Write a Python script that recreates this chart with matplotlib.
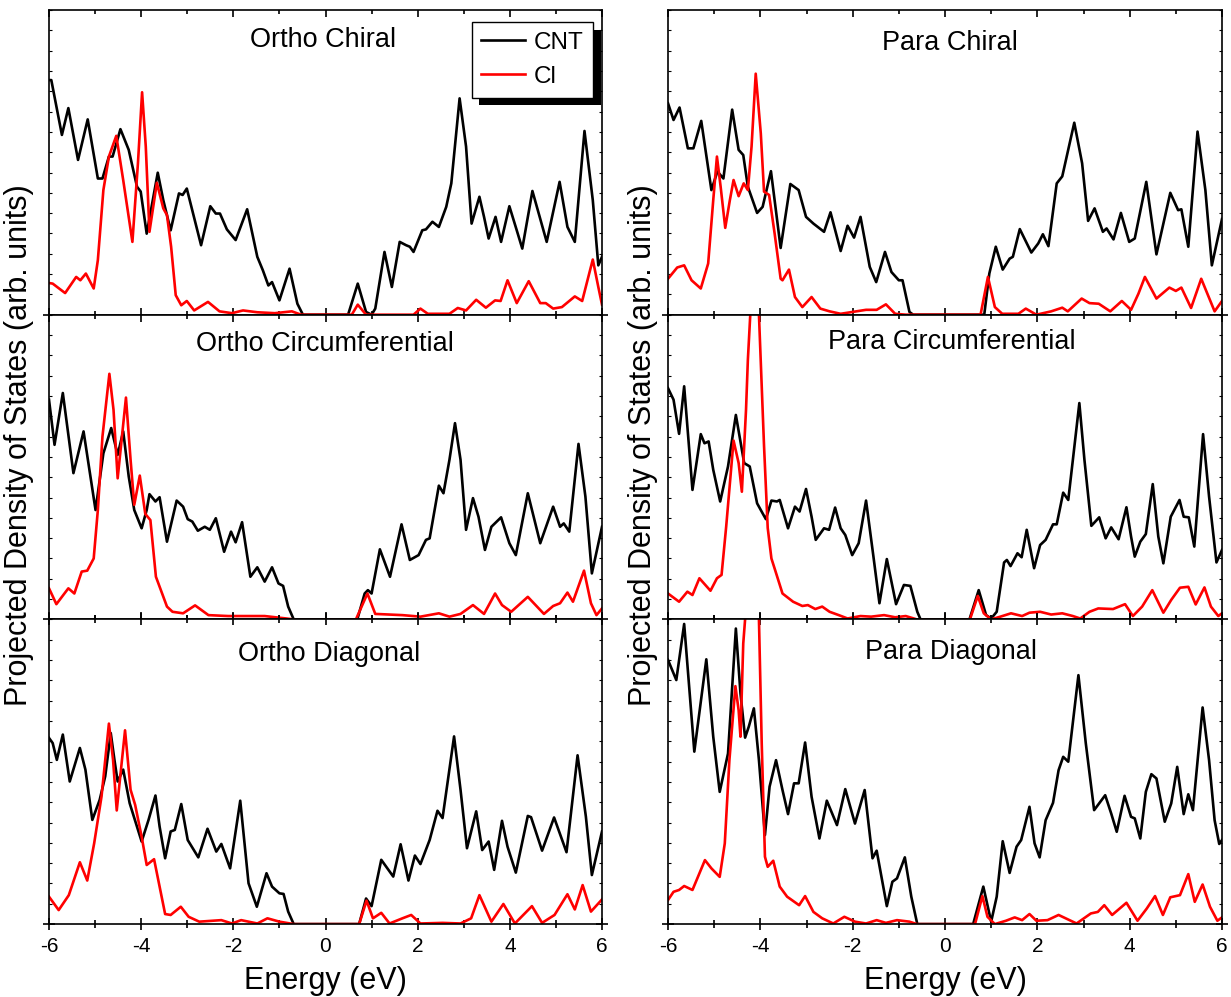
import numpy as np
import matplotlib.pyplot as plt
from matplotlib.ticker import MultipleLocator
import matplotlib.patheffects as pe

plt.rcParams['font.family'] = ['Liberation Sans', 'DejaVu Sans']
plt.rcParams['axes.unicode_minus'] = False

# (energy in eV, PDOS in % of panel height)
ortho_chiral_cnt = [(-6.0,77),(-5.95,77),(-5.72,59),(-5.58,67.8),(-5.37,50.8),(-5.16,64.1),(-4.94,44.7),(-4.84,44.7),
    (-4.70,51.9),(-4.62,51.9),(-4.45,60.9),(-4.27,54.1),(-4.09,42),(-4.01,40.4),(-3.88,26.6),(-3.64,46.6),(-3.52,37.6),
    (-3.36,27.7),(-3.18,39.8),(-3.10,39.3),(-3.01,41.4),(-2.70,22.8),(-2.50,35.6),(-2.38,33.2),(-2.29,33.2),(-2.14,28),
    (-1.95,24.5),(-1.70,34.6),(-1.48,19),(-1.36,14.6),(-1.24,9.6),(-1.16,10.7),(-1.00,4.7),(-0.78,15.1),(-0.61,3.6),
    (-0.49,0),(0.49,0),(0.70,10.2),(0.88,0.9),(1.0,0),(1.08,2),(1.28,20.6),(1.44,9.1),(1.61,23.9),(1.75,22.8),(1.83,22.3),
    (1.91,20.6),(2.10,27.7),(2.18,28),(2.32,30.5),(2.46,28.8),(2.62,35.4),(2.73,43.1),(2.91,71),(3.05,55.2),(3.17,29.9),
    (3.34,38.7),(3.44,32.1),(3.54,25),(3.69,32.1),(3.81,23.9),(3.99,35.6),(4.15,27.7),(4.27,21.7),(4.49,40.6),(4.80,23.9),
    (5.08,43.6),(5.25,28.8),(5.41,23.9),(5.62,60.3),(5.80,37.6),(5.92,16.2),(6.0,19)]
ortho_chiral_cl = [(-6.0,10.4),(-5.92,10.2),(-5.65,7.1),(-5.41,12.4),(-5.32,11.3),(-5.20,13.5),(-5.03,8.6),(-4.94,17.9),
    (-4.82,40.9),(-4.70,51.9),(-4.54,58.7),(-4.39,44.2),(-4.19,23.9),(-4.07,49.7),(-3.98,73),(-3.90,55.2),(-3.82,27.2),
    (-3.66,43.3),(-3.52,34.9),(-3.44,32.7),(-3.35,22.3),(-3.25,6.4),(-3.13,3.1),(-3.01,4.5),(-2.85,1.4),(-2.55,4.2),
    (-2.30,1.1),(-2.03,0.5),(-1.79,1.4),(-1.48,0.8),(-1.1,0.5),(-0.73,1.1),(-0.53,0),(0.57,0),(0.70,3.3),(0.88,0),
    (1.91,0),(2.06,2),(2.22,0.3),(2.69,0.3),(2.87,2.2),(3.05,1.4),(3.27,4.9),(3.48,2.3),(3.68,4.7),(3.80,4.5),(3.95,11.3),
    (4.15,3.8),(4.41,11),(4.66,3.8),(4.78,3.8),(4.94,2),(5.13,2.5),(5.41,6),(5.57,4.5),(5.80,18.1),(5.92,9.1),(6.0,3.3)]

ortho_circ_cnt = [(-6.0,72.1),(-5.88,57.3),(-5.70,74.3),(-5.47,48),(-5.25,61.7),(-4.99,35.9),(-4.82,54.5),(-4.65,62.8),
    (-4.51,54),(-4.39,61.7),(-4.27,46.9),(-4.15,35.9),(-3.99,29.9),(-3.88,35.9),(-3.82,41.1),(-3.69,38.7),(-3.60,40.1),
    (-3.44,25.5),(-3.23,39),(-3.09,37),(-2.99,32.9),(-2.89,32.1),(-2.77,29.1),(-2.62,30.4),(-2.51,29.4),(-2.38,33.2),
    (-2.20,22.2),(-2.05,28.8),(-1.95,25.3),(-1.81,31.9),(-1.63,14),(-1.48,17.1),(-1.32,12.4),(-1.16,17.1),(-1.02,11.8),
    (-0.92,11),(-0.81,4.2),(-0.69,0),(0.69,0),(0.85,8.5),(0.92,9.6),(1.0,8.5),(1.18,23),(1.40,14),(1.65,31.2),(1.83,19.5),
    (2.02,21.1),(2.18,26.1),(2.26,26.6),(2.46,43.9),(2.56,41.4),(2.69,52.4),(2.81,64.4),(2.93,52.4),(3.05,29.4),(3.20,39.8),
    (3.32,33.7),(3.46,22.8),(3.60,30.4),(3.81,33.5),(3.99,25),(4.13,21.1),(4.39,41.4),(4.66,25),(4.94,37),(5.09,30.4),
    (5.17,31.5),(5.29,28.8),(5.49,57.6),(5.64,40.3),(5.78,15.1),(6.0,30.4)]
ortho_circ_cl = [(-6.0,10.2),(-5.84,5),(-5.58,10.2),(-5.45,8.5),(-5.29,15.7),(-5.17,16),(-5.03,20),(-4.94,35.9),(-4.84,60),
    (-4.69,80.6),(-4.60,68.8),(-4.51,46.3),(-4.33,72.8),(-4.23,52.4),(-4.15,37.6),(-4.03,47.2),(-3.91,34.6),(-3.80,32.6),
    (-3.68,14),(-3.56,9.1),(-3.44,4.2),(-3.32,2.5),(-3.09,2),(-2.83,4.6),(-2.54,1.4),(-2.11,1.1),(-1.32,1.1),(-0.85,0.3),
    (-0.7,0),(0.66,0),(0.91,8.5),(1.08,1.8),(1.67,1.4),(2.06,0.9),(2.46,2),(2.69,0.9),(2.93,1.8),(3.20,4.7),(3.44,1.8),
    (3.68,8.5),(3.83,4.7),(4.03,2.5),(4.39,7.4),(4.74,1.8),(4.94,4.4),(5.09,5.3),(5.25,8.8),(5.37,5.8),(5.61,16),(5.76,5.3),
    (5.88,1.4),(6.0,3.6)]

ortho_diag_cnt = [(-6.0,61.1),(-5.92,59.4),(-5.83,53.9),(-5.70,62.2),(-5.55,46.8),(-5.33,57.8),(-5.21,50.7),(-5.06,34.2),
    (-4.90,40.8),(-4.78,48.5),(-4.66,62.7),(-4.58,53.9),(-4.51,46.8),(-4.39,50.7),(-4.25,39.7),(-3.99,27.1),(-3.84,34.2),
    (-3.69,42.2),(-3.60,32),(-3.48,21.6),(-3.36,30.4),(-3.27,30.9),(-3.13,39.4),(-2.99,27.6),(-2.76,21.9),(-2.56,31.3),
    (-2.37,23.8),(-2.26,26.3),(-2.07,18.3),(-1.85,40.5),(-1.67,13.4),(-1.49,5.7),(-1.28,16.7),(-1.16,12.3),(-1.00,10.1),
    (-0.91,9.9),(-0.81,4.1),(-0.69,0),(0.73,0),(0.88,8.4),(1.0,5.9),(1.21,21.1),(1.47,15.6),(1.63,26.2),(1.80,14.3),
    (1.94,22.5),(2.06,19.7),(2.26,27.6),(2.43,37.2),(2.54,34.8),(2.79,61.6),(2.93,44.1),(3.07,24.9),(3.27,37),(3.40,24.3),
    (3.54,27.1),(3.66,17.8),(3.83,33.9),(3.95,25.4),(4.13,16.9),(4.39,35.5),(4.46,35.1),(4.70,24.1),(4.96,35),(5.23,23.6),
    (5.47,55.4),(5.65,35.3),(5.78,16.1),(6.0,30.4)]
ortho_diag_cl = [(-6.0,9),(-5.79,4.6),(-5.57,9.5),(-5.33,20.3),(-5.17,14.3),(-5.02,26.5),(-4.86,41.9),(-4.70,65.8),
    (-4.61,53.9),(-4.53,37.3),(-4.35,63.6),(-4.23,44.1),(-4.13,39.1),(-3.99,28.7),(-3.88,19.4),(-3.72,21.3),(-3.60,12.3),
    (-3.48,3.3),(-3.36,3),(-3.14,5.7),(-2.97,2.4),(-2.74,0.8),(-2.26,1.3),(-2.03,0.2),(-1.83,1.3),(-1.48,0.2),(-1.26,1.9),
    (-1.0,0.8),(-0.69,0),(0.73,0),(0.89,7.7),(1.03,1.9),(1.21,3.7),(1.39,0.2),(1.67,1.9),(1.86,3),(2.06,0.2),(2.54,0.4),
    (2.93,0.2),(3.16,1.9),(3.34,9.5),(3.60,0.8),(3.86,6.6),(4.11,0.2),(4.48,5.9),(4.70,0.4),(4.97,3),(5.25,9.8),(5.41,4.8),
    (5.58,12.8),(5.76,4.1),(6.0,8.1)]

para_chiral_cnt = [(-6.0,69.4),(-5.88,63.9),(-5.75,68),(-5.57,54.6),(-5.45,54.6),(-5.28,63.6),(-5.06,40.9),(-4.93,47),
    (-4.80,44.7),(-4.61,67.3),(-4.47,54.1),(-4.37,52.4),(-4.27,42),(-4.07,33.4),(-3.95,35.4),(-3.77,47.1),(-3.56,21.9),
    (-3.35,42.9),(-3.17,40.9),(-3.01,32.1),(-2.85,29.9),(-2.62,27.2),(-2.48,33.6),(-2.26,20.9),(-2.11,29.2),(-1.97,25.3),
    (-1.83,32.1),(-1.63,15.7),(-1.49,10.7),(-1.30,20.6),(-1.16,14),(-1.00,11.3),(-0.92,11.3),(-0.77,0.9),(-0.69,0),(0.85,0),
    (0.96,13.5),(1.10,22.3),(1.25,14.8),(1.40,18.4),(1.47,19),(1.62,28.1),(1.87,20.4),(2.02,23.4),(2.12,26.4),(2.24,22.5),
    (2.42,43.1),(2.54,45.4),(2.80,63),(2.97,49.7),(3.10,30.8),(3.24,34.9),(3.42,27.2),(3.50,28.3),(3.65,24.7),(3.81,33.4),
    (3.99,23.9),(4.11,25),(4.36,43.6),(4.58,19.8),(4.88,40),(5.05,34.3),(5.12,34.6),(5.27,22.3),(5.47,60.1),(5.64,40.9),
    (5.78,16.2),(6.0,31.4)]
para_chiral_cl = [(-6.0,11.8),(-5.80,15.5),(-5.65,16.2),(-5.49,11.3),(-5.29,8.6),(-5.13,16.8),(-5.02,37.6),(-4.94,51.9),
    (-4.86,42),(-4.76,28.5),(-4.66,37.6),(-4.58,44.2),(-4.47,38.9),(-4.36,43.1),(-4.27,40.9),(-4.19,55.2),(-4.10,79.1),
    (-3.99,59.5),(-3.92,40.4),(-3.81,39.3),(-3.69,26.6),(-3.56,11.8),(-3.52,11.3),(-3.38,14.8),(-3.25,5.8),(-3.09,2.5),
    (-2.89,5.8),(-2.70,2),(-2.50,1.1),(-2.26,0.3),(-1.71,1.6),(-1.48,1.6),(-1.28,3.4),(-1.08,0.3),(-0.85,0),(0.77,0),
    (0.93,12.4),(1.08,2.5),(1.24,0.3),(1.59,0.3),(1.75,2),(1.98,0),(2.30,1.1),(2.54,2.3),(2.66,1.1),(2.96,5.3),(3.13,3.8),
    (3.33,3.6),(3.58,1.1),(3.83,4.5),(4.03,1.6),(4.19,6.9),(4.33,12.4),(4.58,5.3),(4.86,8.9),(5.0,7.8),(5.12,8.9),(5.33,2.2),
    (5.55,11.8),(5.84,1.1),(6.0,4.5)]

para_circ_cnt = [(-6.0,75.9),(-5.88,72.1),(-5.76,60.9),(-5.65,76.5),(-5.47,42.5),(-5.29,60.8),(-5.21,57.8),(-5.12,58.4),
    (-5.02,49.1),(-4.87,38.7),(-4.70,50.2),(-4.53,67.1),(-4.35,51.3),(-4.23,50.2),(-4.07,38.1),(-3.95,34.8),(-3.88,32.9),
    (-3.76,39),(-3.64,38.7),(-3.58,39.2),(-3.40,29.9),(-3.25,37),(-3.15,35.4),(-3.01,42.8),(-2.89,33.7),(-2.80,26.1),
    (-2.62,29.9),(-2.51,29.4),(-2.38,36.7),(-2.26,29.9),(-2.16,27.7),(-2.01,21.1),(-1.87,25),(-1.71,39),(-1.55,20.6),
    (-1.42,5.3),(-1.26,19.8),(-1.06,5),(-0.89,11.3),(-0.75,11),(-0.60,2.5),(-0.53,0),(0.53,0),(0.73,9.6),(0.89,1.4),
    (1.0,0.3),(1.12,2.5),(1.28,18.7),(1.34,19.5),(1.42,17.5),(1.57,21.7),(1.66,20.4),(1.77,29.4),(1.93,16.8),(2.06,24.4),
    (2.18,26.1),(2.34,31.2),(2.42,31.2),(2.56,41.6),(2.67,39.2),(2.77,52.4),(2.91,71),(3.02,52.4),(3.17,30.7),(3.34,33.5),
    (3.48,26.6),(3.60,30.2),(3.76,26.3),(3.93,36.8),(4.03,27.2),(4.11,20.6),(4.23,25.5),(4.35,28),(4.50,44.4),(4.62,27.2),
    (4.73,18.4),(4.89,33.7),(5.08,39.2),(5.17,33.7),(5.28,33.5),(5.40,23.9),(5.59,60.8),(5.72,40.3),(5.88,18.7),(6.0,22.8)]
para_circ_cl = [(-6.0,8.5),(-5.76,5.8),(-5.58,9.1),(-5.47,8),(-5.32,13.5),(-5.08,9.4),(-4.94,13.5),(-4.84,14.6),
    (-4.74,30.4),(-4.58,58.7),(-4.47,51.3),(-4.40,41.9),(-4.31,68.8),(-4.27,85.2),(-4.13,125),(-4.03,100),(-3.92,57),
    (-3.84,30),(-3.76,20),(-3.68,16.2),(-3.52,8.5),(-3.29,5.8),(-3.09,4.4),(-2.97,4.7),(-2.81,3.4),(-2.66,4.2),(-2.50,2.5),
    (-2.30,1.4),(-2.11,0.3),(-1.83,1.1),(-1.60,0.9),(-1.32,1.4),(-1.08,0.7),(-0.85,1.1),(-0.61,0),(0.54,0),(0.71,7.7),
    (0.84,2),(1.0,0),(1.20,0.9),(1.43,2),(1.67,1.1),(1.83,2.2),(2.06,2.5),(2.30,1.6),(2.54,2),(2.77,1.1),(2.93,0.3),
    (3.13,2.5),(3.32,3.6),(3.64,3.4),(3.90,5),(4.07,1.1),(4.27,4.2),(4.49,9.6),(4.73,2.2),(4.90,6.4),(5.09,10.4),(5.27,10.7),
    (5.43,4.9),(5.62,10.5),(5.76,4.2),(5.92,1.1),(6.0,2)]

para_diag_cnt = [(-6.0,86.7),(-5.82,80.1),(-5.65,98.5),(-5.53,75.7),(-5.43,56.6),(-5.17,86.9),(-5.02,61.5),(-4.88,43.4),
    (-4.70,56),(-4.53,97),(-4.43,75.7),(-4.33,61.2),(-4.25,64.8),(-4.14,70.8),(-4.03,53.8),(-3.90,29.2),(-3.80,45.1),
    (-3.66,53.8),(-3.52,44),(-3.40,36.1),(-3.27,46.2),(-3.17,46.2),(-3.03,59.6),(-2.89,41.8),(-2.72,28.1),(-2.56,40.5),
    (-2.34,32.5),(-2.16,44.3),(-1.95,33),(-1.74,44),(-1.57,21.6),(-1.48,24.1),(-1.26,5.9),(-1.14,13.9),(-1.04,15),
    (-0.87,21.9),(-0.73,9),(-0.60,0),(0.61,0),(0.83,12.3),(1.0,0.8),(1.12,9),(1.25,27.2),(1.40,16.8),(1.55,25.4),(1.65,27.6),
    (1.83,38.5),(1.94,26.5),(2.05,21.9),(2.18,34.1),(2.34,39.8),(2.46,50.5),(2.56,54.9),(2.67,53.3),(2.89,81.7),(3.05,59.3),
    (3.23,37.4),(3.47,42.3),(3.60,36.3),(3.72,30.3),(3.89,42.1),(4.03,35.2),(4.11,34.7),(4.23,28.1),(4.35,43.4),(4.47,49.2),
    (4.58,47.8),(4.76,33.6),(4.90,39.6),(5.03,51.6),(5.17,36.1),(5.27,42.6),(5.37,37.4),(5.58,71.1),(5.72,53.8),(5.84,34.1),
    (5.94,26.3),(6.0,27.6)]
para_diag_cl = [(-6.0,7.9),(-5.88,10.6),(-5.76,11.2),(-5.65,12.5),(-5.47,11.2),(-5.20,21),(-5.06,18.3),(-4.88,15.5),
    (-4.77,26.5),(-4.67,53.8),(-4.54,78.1),(-4.47,70.2),(-4.43,61.5),(-4.37,92.1),(-4.33,100),(-4.19,135),(-4.03,100),
    (-3.97,59.3),(-3.90,22.1),(-3.84,18.8),(-3.72,20.8),(-3.58,12.3),(-3.42,9),(-3.16,6.2),(-3.03,9.2),(-2.85,4),(-2.66,1.9),
    (-2.42,0.2),(-2.18,2.4),(-1.95,0.8),(-1.71,0.2),(-1.48,1.3),(-1.28,0.4),(-1.04,1.3),(-0.77,0.8),(-0.61,0),(0.65,0),
    (0.81,9.2),(0.92,2.4),(1.08,0),(1.32,1.1),(1.51,2.2),(1.67,1.3),(1.83,3.3),(1.98,1.1),(2.22,1.3),(2.46,3),(2.85,0.2),
    (3.16,3.5),(3.31,4),(3.45,6.2),(3.62,3),(3.93,7),(4.17,1.1),(4.37,5.1),(4.55,9.2),(4.72,3),(4.88,8.8),(5.09,9.5),
    (5.27,16.4),(5.41,7.3),(5.58,13),(5.74,5.7),(5.90,1.1),(6.0,2.2)]

# column, row, title, CNT, Cl, title position (axes fraction)
panels = [
    (0, 0, 'Ortho Chiral', ortho_chiral_cnt, ortho_chiral_cl, 0.495, 0.880),
    (0, 1, 'Ortho Circumferential', ortho_circ_cnt, ortho_circ_cl, 0.499, 0.880),
    (0, 2, 'Ortho Diagonal', ortho_diag_cnt, ortho_diag_cl, 0.506, 0.863),
    (1, 0, 'Para Chiral', para_chiral_cnt, para_chiral_cl, 0.509, 0.869),
    (1, 1, 'Para Circumferential', para_circ_cnt, para_circ_cl, 0.513, 0.888),
    (1, 2, 'Para Diagonal', para_diag_cnt, para_diag_cl, 0.511, 0.871),
]

W, H = 1231, 997
fig = plt.figure(figsize=(W/100, H/100), dpi=100)
col_x = [(49, 602), (668, 1222)]
top_px, panel_px = 10, 304.7

for col, row, title, cnt, cl, tx, ty in panels:
    x0, x1 = col_x[col]
    y_top = top_px + row*panel_px
    ax = fig.add_axes([x0/W, 1 - (y_top + panel_px)/H, (x1 - x0)/W, panel_px/H])
    e, v = np.array(cnt).T
    ax.plot(e, v, color='black', lw=1.9, solid_joinstyle='round', label='CNT')
    e, v = np.array(cl).T
    ax.plot(e, v, color='#ff0000', lw=1.9, solid_joinstyle='round', label='Cl')
    ax.set_xlim(-6, 6)
    ax.set_ylim(0, 100)
    ax.text(tx, ty, title, transform=ax.transAxes, ha='center', va='baseline', fontsize=19.5)

    for s in ax.spines.values():
        s.set_linewidth(1.2)
    ax.xaxis.set_major_locator(MultipleLocator(2))
    ax.xaxis.set_minor_locator(MultipleLocator(1))
    ax.set_yticks([0])
    ax.yaxis.set_minor_locator(MultipleLocator(100/15))
    ax.tick_params(axis='y', which='major', direction='inout', length=8, width=1.2,
                   left=True, right=True, labelleft=False)
    ax.tick_params(axis='y', which='minor', direction='in', length=2.5, width=0.8, left=True, right=True)
    if row == 2:
        ax.tick_params(axis='x', which='major', direction='inout', length=9, width=1.2,
                       top=True, bottom=True, labelsize=15, pad=5)
        ax.tick_params(axis='x', which='minor', direction='inout', length=5.5, width=1.2, top=True, bottom=True)
    else:
        ax.tick_params(axis='x', which='major', direction='in', length=5, width=1.2,
                       top=True, bottom=True, labelbottom=False)
        ax.tick_params(axis='x', which='minor', direction='in', length=3, width=1.2, top=True, bottom=True)

    if col == 0 and row == 0:
        leg = ax.legend(loc='upper right', bbox_to_anchor=(0.984, 0.961), borderaxespad=0,
                        fontsize=17.5, fancybox=False, framealpha=1, edgecolor='black',
                        handlelength=1.8, handletextpad=0.35, borderpad=0.4, labelspacing=0.5)
        leg.get_frame().set_linewidth(1.0)
        leg.get_frame().set_path_effects([pe.SimplePatchShadow(offset=(5.5, -5.5), shadow_rgbFace='black', alpha=1),
                                          pe.Normal()])

    if row == 2:
        fig.text((x0 + x1)/2/W, 1 - 989/H, 'Energy (eV)', ha='center', va='baseline', fontsize=22)

fig.text(19/W, 1 - 445/H, 'Projected Density of States (arb. units)', rotation=90,
         ha='center', va='center', fontsize=22)
fig.text(643/W, 1 - 445/H, 'Projected Density of States (arb. units)', rotation=90,
         ha='center', va='center', fontsize=22)

fig.savefig('out.png', dpi=100)
